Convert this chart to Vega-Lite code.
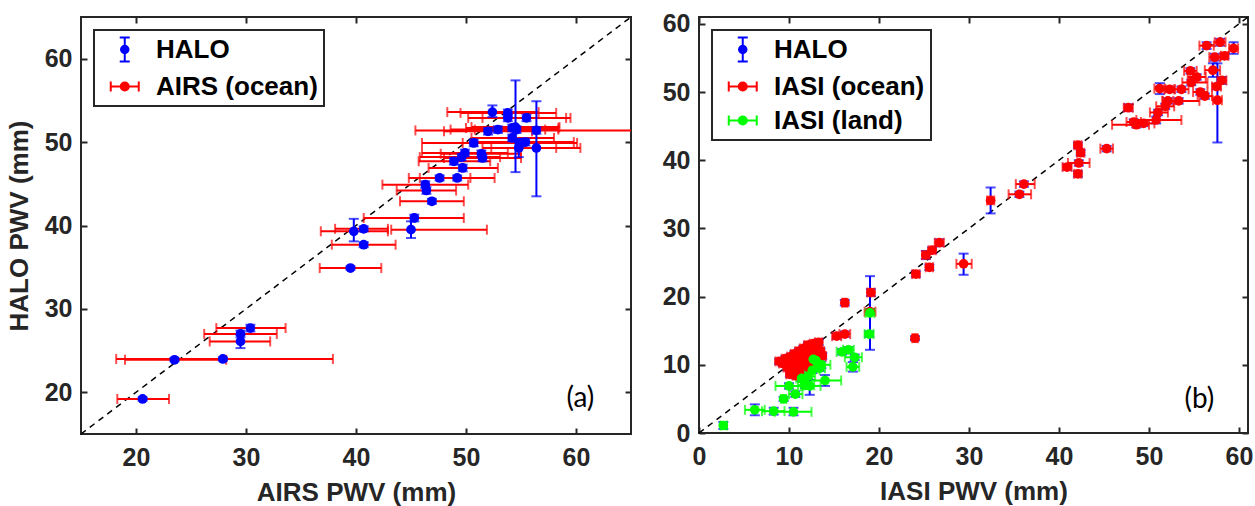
{
  "$schema": "https://vega.github.io/schema/vega-lite/v6.json",
  "background": "white",
  "padding": {"left": 5, "top": 10, "right": 0, "bottom": 0},
  "spacing": 68,
  "bounds": "flush",
  "config": {
    "font": "Liberation Sans",
    "view": {"stroke": "#262626", "strokeWidth": 2},
    "axis": {"domain": false, "grid": false, "tickColor": "#262626", "tickWidth": 2, "tickSize": -6, "labelFont": "Liberation Sans", "labelFontSize": 25, "labelFontWeight": "bold", "labelColor": "#262626", "titleFont": "Liberation Sans", "titleFontSize": 26, "titleFontWeight": "bold", "titleColor": "#262626", "labelFlush": false, "labelOverlap": false},
    "axisX": {"labelPadding": 17, "titlePadding": 9},
    "axisY": {"labelPadding": 15, "titlePadding": 12},
    "legend": {"orient": "top-left", "offset": 13, "padding": 6, "rowPadding": 7, "symbolSize": 625, "symbolStrokeWidth": 2, "labelOffset": 29, "labelFont": "Liberation Sans", "labelFontSize": 26, "labelFontWeight": "bold", "labelColor": "#000000", "labelLimit": 0, "strokeColor": "#262626", "strokeWidth": 2, "fillColor": "#ffffff", "symbolOpacity": 1, "labelBaseline": "middle"}
  },
  "resolve": {"scale": {"color": "independent", "stroke": "independent", "shape": "independent"}},
  "datasets": {
    "a": [
      {"x":52.4,"xl":48.3,"xh":56.6,"y":53.6,"yl":53.0,"yh":54.4},
      {"x":53.8,"xl":49.5,"xh":58.2,"y":53.5,"yl":53.1,"yh":53.9},
      {"x":53.8,"xl":50.2,"xh":59.1,"y":52.9,"yl":52.5,"yh":53.3},
      {"x":55.5,"xl":51.5,"xh":59.5,"y":52.9,"yl":52.5,"yh":53.3},
      {"x":56.4,"xl":45.4,"xh":67.4,"y":51.4,"yl":51.0,"yh":51.8},
      {"x":56.4,"xl":52.3,"xh":60.4,"y":49.3,"yl":43.5,"yh":54.9},
      {"x":54.5,"xl":50.5,"xh":58.5,"y":51.8,"yl":46.4,"yh":57.4},
      {"x":52.0,"xl":48.0,"xh":56.0,"y":51.3,"yl":50.9,"yh":51.7},
      {"x":52.9,"xl":48.6,"xh":57.2,"y":51.5,"yl":51.1,"yh":51.9},
      {"x":54.2,"xl":50.0,"xh":58.4,"y":51.7,"yl":51.3,"yh":52.1},
      {"x":54.6,"xl":50.8,"xh":58.4,"y":51.5,"yl":51.1,"yh":51.9},
      {"x":54.2,"xl":50.5,"xh":58.0,"y":50.5,"yl":50.1,"yh":50.9},
      {"x":54.9,"xl":49.7,"xh":60.1,"y":49.9,"yl":49.5,"yh":50.3},
      {"x":55.4,"xl":51.0,"xh":59.8,"y":50.0,"yl":49.6,"yh":50.4},
      {"x":54.8,"xl":51.5,"xh":58.2,"y":49.3,"yl":48.2,"yh":50.4},
      {"x":50.7,"xl":46.0,"xh":55.4,"y":49.9,"yl":49.5,"yh":50.3},
      {"x":51.4,"xl":47.7,"xh":55.0,"y":48.6,"yl":48.2,"yh":49.0},
      {"x":51.5,"xl":48.0,"xh":55.0,"y":48.1,"yl":47.7,"yh":48.5},
      {"x":49.9,"xl":46.0,"xh":53.8,"y":48.7,"yl":48.3,"yh":49.1},
      {"x":49.6,"xl":45.8,"xh":53.1,"y":48.2,"yl":47.8,"yh":48.6},
      {"x":48.9,"xl":45.7,"xh":52.2,"y":47.7,"yl":47.3,"yh":48.1},
      {"x":49.7,"xl":46.6,"xh":52.9,"y":46.9,"yl":46.5,"yh":47.3},
      {"x":47.6,"xl":44.8,"xh":50.4,"y":45.7,"yl":45.4,"yh":46.0},
      {"x":49.2,"xl":45.8,"xh":52.6,"y":45.7,"yl":45.4,"yh":46.0},
      {"x":46.3,"xl":42.4,"xh":50.2,"y":44.9,"yl":44.5,"yh":45.3},
      {"x":46.4,"xl":43.7,"xh":49.1,"y":44.2,"yl":43.8,"yh":44.6},
      {"x":46.9,"xl":44.0,"xh":49.8,"y":42.9,"yl":42.6,"yh":43.2},
      {"x":45.3,"xl":40.7,"xh":49.8,"y":40.9,"yl":40.5,"yh":41.3},
      {"x":45.0,"xl":43.2,"xh":51.9,"y":39.5,"yl":38.5,"yh":40.5},
      {"x":40.7,"xl":38.1,"xh":42.9,"y":39.6,"yl":39.3,"yh":39.9},
      {"x":39.8,"xl":36.8,"xh":42.9,"y":39.3,"yl":38.1,"yh":40.8},
      {"x":40.7,"xl":37.8,"xh":43.6,"y":37.7,"yl":37.4,"yh":38.0},
      {"x":39.5,"xl":36.7,"xh":42.3,"y":34.9,"yl":34.7,"yh":35.1},
      {"x":20.6,"xl":18.3,"xh":23.0,"y":19.2,"yl":19.0,"yh":19.4},
      {"x":23.5,"xl":19.0,"xh":28.2,"y":23.9,"yl":23.7,"yh":24.1},
      {"x":27.9,"xl":18.2,"xh":37.9,"y":24.0,"yl":23.8,"yh":24.2},
      {"x":29.5,"xl":26.2,"xh":32.8,"y":27.0,"yl":26.6,"yh":27.4},
      {"x":29.5,"xl":26.7,"xh":32.2,"y":26.1,"yl":25.3,"yh":26.9},
      {"x":30.4,"xl":27.3,"xh":33.6,"y":27.7,"yl":27.3,"yh":28.1}
    ],
    "b": [
      {"t":"o","x":56.4,"xl":55.6,"xh":57.2,"y":56.8,"yl":56.3,"yh":57.3},
      {"t":"o","x":57.9,"xl":57.3,"xh":58.5,"y":57.3,"yl":56.8,"yh":57.8},
      {"t":"o","x":59.4,"xl":58.9,"xh":59.9,"y":56.4,"yl":55.6,"yh":57.3},
      {"t":"o","x":57.3,"xl":56.7,"xh":57.9,"y":55.1,"yl":54.6,"yh":55.6},
      {"t":"o","x":58.4,"xl":58.0,"xh":58.8,"y":55.3,"yl":54.9,"yh":55.7},
      {"t":"o","x":54.6,"xl":53.9,"xh":55.3,"y":53.1,"yl":52.7,"yh":53.5},
      {"t":"o","x":57.1,"xl":56.2,"xh":57.9,"y":53.2,"yl":52.2,"yh":54.2},
      {"t":"o","x":55.3,"xl":54.3,"xh":56.3,"y":52.2,"yl":51.8,"yh":52.6},
      {"t":"o","x":54.7,"xl":53.7,"xh":56.5,"y":51.4,"yl":51.0,"yh":51.8},
      {"t":"o","x":58.1,"xl":57.6,"xh":58.6,"y":51.7,"yl":51.2,"yh":52.2},
      {"t":"o","x":57.5,"xl":57.0,"xh":58.0,"y":50.8,"yl":50.4,"yh":51.2},
      {"t":"o","x":55.7,"xl":54.9,"xh":56.5,"y":50.0,"yl":49.6,"yh":50.4},
      {"t":"o","x":56.2,"xl":55.4,"xh":57.0,"y":49.4,"yl":49.0,"yh":49.8},
      {"t":"o","x":57.6,"xl":57.1,"xh":58.1,"y":48.8,"yl":42.6,"yh":54.2},
      {"t":"o","x":51.2,"xl":50.6,"xh":51.8,"y":50.5,"yl":49.7,"yh":51.3},
      {"t":"o","x":52.3,"xl":51.7,"xh":52.9,"y":50.4,"yl":50.0,"yh":50.8},
      {"t":"o","x":53.6,"xl":52.8,"xh":54.4,"y":50.4,"yl":50.0,"yh":50.8},
      {"t":"o","x":53.3,"xl":51.5,"xh":55.6,"y":48.7,"yl":48.3,"yh":49.1},
      {"t":"o","x":52.1,"xl":51.5,"xh":52.7,"y":48.7,"yl":48.3,"yh":49.1},
      {"t":"o","x":51.8,"xl":50.8,"xh":52.8,"y":47.9,"yl":47.5,"yh":48.3},
      {"t":"o","x":51.0,"xl":50.1,"xh":52.1,"y":47.0,"yl":46.6,"yh":47.4},
      {"t":"o","x":50.8,"xl":48.6,"xh":53.6,"y":45.9,"yl":45.4,"yh":46.4},
      {"t":"o","x":48.6,"xl":45.9,"xh":50.0,"y":45.2,"yl":44.8,"yh":45.6},
      {"t":"o","x":48.3,"xl":47.5,"xh":49.1,"y":45.6,"yl":45.2,"yh":46.0},
      {"t":"o","x":49.4,"xl":48.2,"xh":50.6,"y":45.4,"yl":45.0,"yh":45.8},
      {"t":"o","x":47.7,"xl":47.2,"xh":48.2,"y":47.7,"yl":47.2,"yh":48.2},
      {"t":"o","x":42.1,"xl":41.7,"xh":42.5,"y":42.2,"yl":41.8,"yh":42.6},
      {"t":"o","x":42.4,"xl":42.0,"xh":42.8,"y":41.1,"yl":40.7,"yh":41.5},
      {"t":"o","x":42.2,"xl":41.0,"xh":43.4,"y":39.6,"yl":39.2,"yh":40.0},
      {"t":"o","x":42.1,"xl":41.7,"xh":42.5,"y":38.0,"yl":37.6,"yh":38.4},
      {"t":"o","x":40.9,"xl":40.4,"xh":41.4,"y":39.0,"yl":38.6,"yh":39.4},
      {"t":"o","x":45.3,"xl":44.6,"xh":46.0,"y":41.7,"yl":41.3,"yh":42.1},
      {"t":"o","x":36.1,"xl":35.2,"xh":37.3,"y":36.5,"yl":36.1,"yh":36.9},
      {"t":"o","x":35.6,"xl":34.4,"xh":36.9,"y":35.0,"yl":34.6,"yh":35.4},
      {"t":"o","x":32.4,"xl":32.0,"xh":32.8,"y":34.1,"yl":32.2,"yh":36.0},
      {"t":"o","x":26.7,"xl":26.2,"xh":27.2,"y":27.9,"yl":27.4,"yh":28.4},
      {"t":"o","x":25.9,"xl":25.5,"xh":26.3,"y":26.8,"yl":26.4,"yh":27.2},
      {"t":"o","x":25.2,"xl":24.8,"xh":25.6,"y":26.1,"yl":25.5,"yh":26.7},
      {"t":"o","x":25.6,"xl":25.2,"xh":26.0,"y":24.3,"yl":23.9,"yh":24.7},
      {"t":"o","x":24.1,"xl":23.7,"xh":24.5,"y":23.3,"yl":22.9,"yh":23.7},
      {"t":"o","x":29.4,"xl":28.6,"xh":30.3,"y":24.8,"yl":23.2,"yh":26.3},
      {"t":"o","x":24.0,"xl":23.7,"xh":24.3,"y":13.9,"yl":13.6,"yh":14.2},
      {"t":"o","x":19.1,"xl":18.7,"xh":19.5,"y":20.6,"yl":20.1,"yh":21.1},
      {"t":"o","x":16.2,"xl":15.9,"xh":16.5,"y":19.1,"yl":18.7,"yh":19.5},
      {"t":"o","x":19.0,"xl":18.4,"xh":19.6,"y":17.8,"yl":17.4,"yh":18.2},
      {"t":"o","x":15.3,"xl":14.8,"xh":15.8,"y":14.2,"yl":13.8,"yh":14.6},
      {"t":"o","x":16.2,"xl":15.6,"xh":16.8,"y":14.5,"yl":14.1,"yh":14.9},
      {"t":"o","x":8.9,"xl":8.5,"xh":9.3,"y":10.5,"yl":10.1,"yh":10.9},
      {"t":"o","x":9.3,"xl":8.9,"xh":9.7,"y":10.2,"yl":9.8,"yh":10.6},
      {"t":"o","x":9.6,"xl":9.2,"xh":10.0,"y":10.9,"yl":10.5,"yh":11.3},
      {"t":"o","x":9.8,"xl":9.4,"xh":10.2,"y":9.6,"yl":9.2,"yh":10.0},
      {"t":"o","x":10.0,"xl":9.6,"xh":10.4,"y":10.3,"yl":9.9,"yh":10.7},
      {"t":"o","x":10.2,"xl":9.8,"xh":10.6,"y":11.2,"yl":10.8,"yh":11.6},
      {"t":"o","x":10.3,"xl":9.9,"xh":10.7,"y":9.0,"yl":8.6,"yh":9.4},
      {"t":"o","x":10.5,"xl":10.1,"xh":10.9,"y":10.0,"yl":9.6,"yh":10.4},
      {"t":"o","x":10.6,"xl":10.2,"xh":11.0,"y":11.6,"yl":11.2,"yh":12.0},
      {"t":"o","x":10.8,"xl":10.4,"xh":11.2,"y":8.4,"yl":8.0,"yh":8.8},
      {"t":"o","x":10.9,"xl":10.5,"xh":11.3,"y":10.7,"yl":10.3,"yh":11.1},
      {"t":"o","x":11.1,"xl":10.7,"xh":11.5,"y":12.0,"yl":11.6,"yh":12.4},
      {"t":"o","x":11.2,"xl":10.8,"xh":11.6,"y":9.4,"yl":9.0,"yh":9.8},
      {"t":"o","x":11.4,"xl":11.0,"xh":11.8,"y":11.1,"yl":10.7,"yh":11.5},
      {"t":"o","x":11.5,"xl":11.1,"xh":11.9,"y":8.1,"yl":7.7,"yh":8.5},
      {"t":"o","x":11.6,"xl":11.2,"xh":12.0,"y":12.4,"yl":12.0,"yh":12.8},
      {"t":"o","x":11.8,"xl":11.4,"xh":12.2,"y":10.2,"yl":9.8,"yh":10.6},
      {"t":"o","x":12.0,"xl":11.6,"xh":12.4,"y":11.6,"yl":11.2,"yh":12.0},
      {"t":"o","x":12.1,"xl":11.7,"xh":12.5,"y":12.9,"yl":12.5,"yh":13.3},
      {"t":"o","x":12.3,"xl":11.9,"xh":12.7,"y":10.8,"yl":10.4,"yh":11.2},
      {"t":"o","x":12.5,"xl":12.1,"xh":12.9,"y":12.2,"yl":11.8,"yh":12.6},
      {"t":"o","x":12.7,"xl":12.3,"xh":13.1,"y":13.1,"yl":12.7,"yh":13.5},
      {"t":"o","x":12.9,"xl":12.5,"xh":13.3,"y":11.5,"yl":11.1,"yh":11.9},
      {"t":"o","x":13.1,"xl":12.7,"xh":13.5,"y":12.6,"yl":12.2,"yh":13.0},
      {"t":"o","x":13.3,"xl":12.9,"xh":13.7,"y":13.3,"yl":12.9,"yh":13.7},
      {"t":"o","x":13.5,"xl":13.1,"xh":13.9,"y":12.0,"yl":11.6,"yh":12.4},
      {"t":"o","x":13.7,"xl":13.3,"xh":14.1,"y":11.3,"yl":10.9,"yh":11.7},
      {"t":"o","x":12.2,"xl":11.8,"xh":12.6,"y":9.6,"yl":9.2,"yh":10.0},
      {"t":"o","x":10.1,"xl":9.7,"xh":10.5,"y":8.6,"yl":8.2,"yh":9.0},
      {"t":"o","x":11.0,"xl":10.6,"xh":11.4,"y":9.9,"yl":9.5,"yh":10.3},
      {"t":"l","x":19.0,"xl":18.5,"xh":19.5,"y":17.6,"yl":12.2,"yh":23.0},
      {"t":"l","x":18.9,"xl":18.4,"xh":19.4,"y":14.5,"yl":14.1,"yh":14.9},
      {"t":"l","x":15.9,"xl":15.3,"xh":17.0,"y":11.9,"yl":11.5,"yh":12.3},
      {"t":"l","x":16.6,"xl":16.0,"xh":17.2,"y":12.2,"yl":11.8,"yh":12.6},
      {"t":"l","x":17.3,"xl":16.2,"xh":18.1,"y":11.1,"yl":10.7,"yh":11.5},
      {"t":"l","x":17.1,"xl":16.4,"xh":17.8,"y":9.7,"yl":9.0,"yh":10.4},
      {"t":"l","x":12.7,"xl":12.0,"xh":13.6,"y":10.8,"yl":10.1,"yh":11.5},
      {"t":"l","x":13.6,"xl":12.8,"xh":14.6,"y":10.0,"yl":9.5,"yh":10.5},
      {"t":"l","x":14.0,"xl":12.5,"xh":15.8,"y":7.7,"yl":6.9,"yh":8.5},
      {"t":"l","x":12.3,"xl":11.3,"xh":13.5,"y":6.9,"yl":5.6,"yh":7.8},
      {"t":"l","x":10.7,"xl":10.0,"xh":11.5,"y":5.7,"yl":5.3,"yh":6.1},
      {"t":"l","x":10.0,"xl":8.5,"xh":11.5,"y":6.9,"yl":6.5,"yh":7.3},
      {"t":"l","x":9.4,"xl":9.1,"xh":9.7,"y":5.0,"yl":4.7,"yh":5.3},
      {"t":"l","x":6.2,"xl":5.1,"xh":7.3,"y":3.4,"yl":2.6,"yh":4.2},
      {"t":"l","x":8.3,"xl":7.0,"xh":9.5,"y":3.2,"yl":2.7,"yh":3.7},
      {"t":"l","x":10.5,"xl":8.4,"xh":12.5,"y":3.1,"yl":2.6,"yh":3.7},
      {"t":"l","x":2.7,"xl":2.4,"xh":3.1,"y":1.1,"yl":0.6,"yh":1.6},
      {"t":"l","x":11.8,"xl":11.0,"xh":12.8,"y":7.0,"yl":6.6,"yh":7.4},
      {"t":"l","x":12.1,"xl":11.3,"xh":12.9,"y":8.3,"yl":7.9,"yh":8.7},
      {"t":"l","x":12.6,"xl":11.8,"xh":13.4,"y":9.2,"yl":8.8,"yh":9.6},
      {"t":"l","x":11.4,"xl":10.8,"xh":12.0,"y":8.0,"yl":7.6,"yh":8.4},
      {"t":"l","x":13.0,"xl":12.4,"xh":13.6,"y":10.6,"yl":10.2,"yh":11.0},
      {"t":"l","x":13.4,"xl":12.8,"xh":14.0,"y":9.5,"yl":9.1,"yh":9.9}
    ]
  },
  "hconcat": [
    {
      "width": 550,
      "height": 417,
      "resolve": {"axis": {"x": "independent", "y": "independent"}},
      "layer": [
        {
          "data": {"values": [{"p": 15, "q": 65}]},
          "mark": {"type": "rule", "strokeDash": [6, 5], "strokeWidth": 1.5, "color": "#000000"},
          "encoding": {
            "x": {"field": "p", "type": "quantitative", "scale": {"domain": [15, 65], "nice": false, "zero": false}, "axis": {"orient": "top", "labels": false, "title": null, "values": [20, 30, 40, 50, 60]}},
            "y": {"field": "p", "type": "quantitative", "scale": {"domain": [15, 65], "nice": false, "zero": false}, "axis": {"orient": "right", "labels": false, "title": null, "values": [20, 30, 40, 50, 60]}},
            "x2": {"field": "q"},
            "y2": {"field": "q"}
          }
        },
        {
          "data": {"name": "a"},
          "mark": {"type": "errorbar", "color": "#FF0000", "thickness": 2, "ticks": {"size": 10}, "clip": true},
          "encoding": {
            "x": {"field": "xl", "type": "quantitative", "scale": {"domain": [15, 65], "nice": false, "zero": false}, "axis": null, "title": "AIRS PWV (mm)"},
            "x2": {"field": "xh"},
            "y": {"field": "y", "type": "quantitative", "scale": {"domain": [15, 65], "nice": false, "zero": false}, "axis": null, "title": "HALO PWV (mm)"}
          }
        },
        {
          "data": {"name": "a"},
          "mark": {"type": "errorbar", "color": "#0000FF", "thickness": 2, "ticks": {"size": 10}, "clip": true},
          "encoding": {
            "y": {"field": "yl", "type": "quantitative", "scale": {"domain": [15, 65], "nice": false, "zero": false}, "axis": null, "title": "HALO PWV (mm)"},
            "y2": {"field": "yh"},
            "x": {"field": "x", "type": "quantitative", "scale": {"domain": [15, 65], "nice": false, "zero": false}, "axis": null, "title": "AIRS PWV (mm)"}
          }
        },
        {
          "data": {"name": "a"},
          "mark": {"type": "point", "filled": true, "color": "#0000FF", "size": 95, "opacity": 1},
          "encoding": {
            "x": {"field": "x", "type": "quantitative", "scale": {"domain": [15, 65], "nice": false, "zero": false}, "axis": {"values": [20, 30, 40, 50, 60], "title": "AIRS PWV (mm)"}},
            "y": {"field": "y", "type": "quantitative", "scale": {"domain": [15, 65], "nice": false, "zero": false}, "axis": {"values": [20, 30, 40, 50, 60], "title": "HALO PWV (mm)"}}
          }
        },
        {
          "data": {"values": [{"s": "HALO"}, {"s": "AIRS (ocean)"}]},
          "mark": {"type": "point", "filled": true, "opacity": 0, "strokeWidth": 2},
          "encoding": {
            "color": {"field": "s", "type": "nominal", "scale": {"domain": ["HALO", "AIRS (ocean)"], "range": ["#0000FF", "#FF0000"]}, "legend": {"title": null}},
            "stroke": {"field": "s", "type": "nominal", "scale": {"domain": ["HALO", "AIRS (ocean)"], "range": ["#0000FF", "#FF0000"]}, "legend": {"title": null}},
            "shape": {"field": "s", "type": "nominal", "scale": {"domain": ["HALO", "AIRS (ocean)"], "range": ["M0.9,-0.96L0.9,0.96M0.5,-0.96L1.3,-0.96M0.5,0.96L1.3,0.96M0.6,0A0.3,0.3,0,1,0,1.2,0A0.3,0.3,0,1,0,0.6,0Z", "M-0.22,0L2.02,0M-0.22,-0.4L-0.22,0.4M2.02,-0.4L2.02,0.4M0.58,0A0.32,0.32,0,1,0,1.22,0A0.32,0.32,0,1,0,0.58,0Z"]}, "legend": {"title": null}}
          }
        },
        {
          "data": {"values": [{"lab": "(a)"}]},
          "mark": {"type": "text", "font": "Lato", "fontSize": 28, "color": "#000000"},
          "encoding": {
            "text": {"field": "lab"},
            "x": {"datum": 60.4, "type": "quantitative", "scale": {"domain": [15, 65], "nice": false, "zero": false}, "axis": null},
            "y": {"datum": 19.2, "type": "quantitative", "scale": {"domain": [15, 65], "nice": false, "zero": false}, "axis": null}
          }
        }
      ]
    },
    {
      "width": 549,
      "height": 416,
      "resolve": {"axis": {"x": "independent", "y": "independent"}},
      "layer": [
        {
          "data": {"values": [{"p": 0, "q": 61}]},
          "mark": {"type": "rule", "strokeDash": [6, 5], "strokeWidth": 1.5, "color": "#000000"},
          "encoding": {
            "x": {"field": "p", "type": "quantitative", "scale": {"domain": [0, 61], "nice": false, "zero": false}, "axis": {"orient": "top", "labels": false, "title": null, "values": [0, 10, 20, 30, 40, 50, 60]}},
            "y": {"field": "p", "type": "quantitative", "scale": {"domain": [0, 61], "nice": false, "zero": false}, "axis": {"orient": "right", "labels": false, "title": null, "values": [0, 10, 20, 30, 40, 50, 60]}},
            "x2": {"field": "q"},
            "y2": {"field": "q"}
          }
        },
        {
          "data": {"name": "b"},
          "mark": {"type": "errorbar", "color": "#0000FF", "thickness": 2, "ticks": {"size": 10}, "clip": true},
          "encoding": {
            "y": {"field": "yl", "type": "quantitative", "scale": {"domain": [0, 61], "nice": false, "zero": false}, "axis": null, "title": null},
            "y2": {"field": "yh"},
            "x": {"field": "x", "type": "quantitative", "scale": {"domain": [0, 61], "nice": false, "zero": false}, "axis": null, "title": "IASI PWV (mm)"}
          }
        },
        {
          "data": {"name": "b"},
          "transform": [{"filter": "datum.t == 'o'"}],
          "mark": {"type": "errorbar", "color": "#FF0000", "thickness": 2, "ticks": {"size": 10}, "clip": true},
          "encoding": {
            "x": {"field": "xl", "type": "quantitative", "scale": {"domain": [0, 61], "nice": false, "zero": false}, "axis": null, "title": "IASI PWV (mm)"},
            "x2": {"field": "xh"},
            "y": {"field": "y", "type": "quantitative", "scale": {"domain": [0, 61], "nice": false, "zero": false}, "axis": null, "title": null}
          }
        },
        {
          "data": {"name": "b"},
          "transform": [{"filter": "datum.t == 'l'"}],
          "mark": {"type": "errorbar", "color": "#00FF00", "thickness": 2, "ticks": {"size": 10}, "clip": true},
          "encoding": {
            "x": {"field": "xl", "type": "quantitative", "scale": {"domain": [0, 61], "nice": false, "zero": false}, "axis": null, "title": "IASI PWV (mm)"},
            "x2": {"field": "xh"},
            "y": {"field": "y", "type": "quantitative", "scale": {"domain": [0, 61], "nice": false, "zero": false}, "axis": null, "title": null}
          }
        },
        {
          "data": {"name": "b"},
          "transform": [{"filter": "datum.t == 'o'"}],
          "mark": {"type": "point", "filled": true, "color": "#FF0000", "size": 95, "opacity": 1},
          "encoding": {
            "x": {"field": "x", "type": "quantitative", "scale": {"domain": [0, 61], "nice": false, "zero": false}, "axis": {"values": [0, 10, 20, 30, 40, 50, 60], "title": "IASI PWV (mm)"}},
            "y": {"field": "y", "type": "quantitative", "scale": {"domain": [0, 61], "nice": false, "zero": false}, "axis": {"values": [0, 10, 20, 30, 40, 50, 60], "title": null}}
          }
        },
        {
          "data": {"name": "b"},
          "transform": [{"filter": "datum.t == 'l'"}],
          "mark": {"type": "point", "filled": true, "color": "#00FF00", "size": 95, "opacity": 1},
          "encoding": {
            "x": {"field": "x", "type": "quantitative", "scale": {"domain": [0, 61], "nice": false, "zero": false}, "axis": null, "title": "IASI PWV (mm)"},
            "y": {"field": "y", "type": "quantitative", "scale": {"domain": [0, 61], "nice": false, "zero": false}, "axis": null, "title": null}
          }
        },
        {
          "data": {"values": [{"s": "HALO"}, {"s": "IASI (ocean)"}, {"s": "IASI (land)"}]},
          "mark": {"type": "point", "filled": true, "opacity": 0, "strokeWidth": 2},
          "encoding": {
            "color": {"field": "s", "type": "nominal", "scale": {"domain": ["HALO", "IASI (ocean)", "IASI (land)"], "range": ["#0000FF", "#FF0000", "#00FF00"]}, "legend": {"title": null}},
            "stroke": {"field": "s", "type": "nominal", "scale": {"domain": ["HALO", "IASI (ocean)", "IASI (land)"], "range": ["#0000FF", "#FF0000", "#00FF00"]}, "legend": {"title": null}},
            "shape": {"field": "s", "type": "nominal", "scale": {"domain": ["HALO", "IASI (ocean)", "IASI (land)"], "range": ["M0.9,-0.96L0.9,0.96M0.5,-0.96L1.3,-0.96M0.5,0.96L1.3,0.96M0.6,0A0.3,0.3,0,1,0,1.2,0A0.3,0.3,0,1,0,0.6,0Z", "M-0.22,0L2.02,0M-0.22,-0.4L-0.22,0.4M2.02,-0.4L2.02,0.4M0.58,0A0.32,0.32,0,1,0,1.22,0A0.32,0.32,0,1,0,0.58,0Z", "M-0.22,0L2.02,0M-0.22,-0.4L-0.22,0.4M2.02,-0.4L2.02,0.4M0.58,0A0.32,0.32,0,1,0,1.22,0A0.32,0.32,0,1,0,0.58,0Z"]}, "legend": {"title": null}}
          }
        },
        {
          "data": {"values": [{"lab": "(b)"}]},
          "mark": {"type": "text", "font": "Lato", "fontSize": 28, "color": "#000000"},
          "encoding": {
            "text": {"field": "lab"},
            "x": {"datum": 55.6, "type": "quantitative", "scale": {"domain": [0, 61], "nice": false, "zero": false}, "axis": null},
            "y": {"datum": 4.8, "type": "quantitative", "scale": {"domain": [0, 61], "nice": false, "zero": false}, "axis": null}
          }
        }
      ]
    }
  ]
}
